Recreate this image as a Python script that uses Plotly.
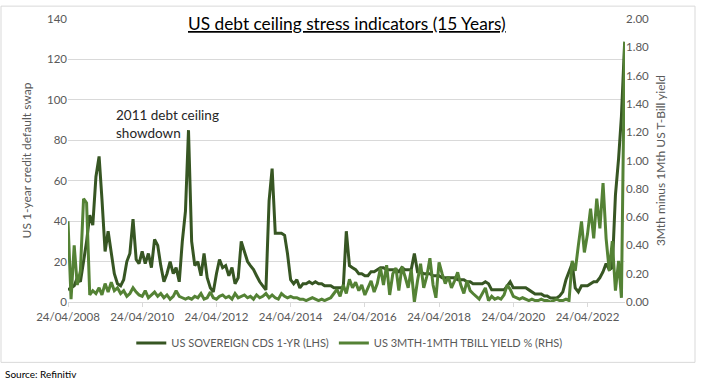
import pandas as pd
import plotly.graph_objects as go

# ---------------- data (monthly readings from the chart) ----------------
start_date = "2008-04-24"

cds_1yr = [
    6, 7, 8, 12, 10, 20, 30, 43, 38, 62,
    72, 51, 25, 35, 24, 14, 9, 8, 11, 20,
    24, 41, 21, 19, 25, 19, 24, 17, 31, 28,
    18, 10, 14, 20, 14, 17, 10, 30, 45, 85,
    30, 18, 20, 13, 24, 12, 7, 5, 14, 21,
    17, 18, 13, 17, 9, 12, 30, 25, 20, 18,
    16, 13, 10, 8, 6, 50, 66, 34, 34, 34,
    33, 24, 11, 9, 11, 7, 9, 9, 10, 9,
    10, 9, 9, 8, 8, 8, 7, 7, 7, 7,
    35, 18, 17, 16, 14, 14, 13, 13, 15, 15,
    16, 17, 17, 16, 16, 16, 16, 15, 17, 16,
    16, 16, 24, 15, 15, 14, 14, 14, 13, 13,
    13, 12, 12, 12, 12, 12, 11, 11, 11, 10,
    10, 9, 9, 9, 9, 10, 9, 6, 6, 6,
    6, 6, 8, 10, 7, 7, 7, 7, 7, 6,
    5, 4, 4, 4, 3, 3, 2, 2, 2, 3,
    5, 11, 15, 19, 7, 5, 8, 8, 8, 9,
    10, 10, 12, 15, 19, 16, 17, 53, 71, 92,
    128,
]

tbill_spread = [
    0.57, 0.02, 0.40, 0.12, 0.22, 0.73, 0.70, 0.05, 0.08, 0.06,
    0.10, 0.05, 0.13, 0.07, 0.14, 0.08, 0.10, 0.06, 0.08, 0.04,
    0.06, 0.10, 0.07, 0.05, 0.04, 0.08, 0.03, 0.05, 0.07, 0.04,
    0.06, 0.03, 0.05, 0.02, 0.04, 0.08, 0.04, 0.03, 0.02, 0.03,
    0.02, 0.04, 0.03, 0.06, 0.02, 0.03, 0.07, 0.03, 0.02, 0.04,
    0.05, 0.03, 0.04, 0.02, 0.06, 0.03, 0.04, 0.05, 0.03, 0.04,
    0.02, 0.05, 0.03, 0.04, 0.06, 0.03, 0.05, 0.03, 0.02, 0.06,
    0.04, 0.03, 0.04, 0.03, 0.03, 0.02, 0.02, 0.01, 0.02, 0.03,
    0.02, 0.01, 0.02, 0.01, 0.02, 0.03, 0.06, 0.09, 0.04, 0.12,
    0.06, 0.16, 0.10, 0.14, 0.08, 0.12, 0.05, 0.10, 0.15, 0.07,
    0.13, 0.24, 0.12, 0.26, 0.05, 0.20, 0.24, 0.08, 0.25, 0.18,
    0.10, 0.23, 0.00, 0.15, 0.27, 0.10, 0.18, 0.31, 0.12, 0.03,
    0.28, 0.20, 0.13, 0.18, 0.10, 0.15, 0.21, 0.12, 0.06, 0.15,
    0.08, 0.06, 0.04, 0.02, 0.06, 0.10, 0.01, 0.04, 0.02, 0.03,
    0.02, 0.05, 0.12, 0.09, 0.04, 0.03, 0.02, 0.03, 0.02, 0.01,
    0.02, 0.01, 0.01, 0.02, 0.01, 0.01, 0.00, 0.01, 0.02, 0.01,
    0.01, 0.02, 0.01, 0.29, 0.22, 0.40, 0.57, 0.35, 0.48, 0.66,
    0.45, 0.73, 0.52, 0.84, 0.45, 0.22, 0.43, 0.08, 0.29, 0.03,
    1.84,
]

dates = pd.date_range(start_date, periods=len(cds_1yr), freq=pd.DateOffset(months=1))

x_tick_dates = ["2008-04-24", "2010-04-24", "2012-04-24", "2014-04-24",
                "2016-04-24", "2018-04-24", "2020-04-24", "2022-04-24"]
x_tick_labels = ["24/04/2008", "24/04/2010", "24/04/2012", "24/04/2014",
                 "24/04/2016", "24/04/2018", "24/04/2020", "24/04/2022"]

left_ticks = [0, 20, 40, 60, 80, 100, 120, 140]
right_ticks = [0, 0.2, 0.4, 0.6, 0.8, 1.0, 1.2, 1.4, 1.6, 1.8, 2.0]
right_tick_labels = ["0.00", "0.20", "0.40", "0.60", "0.80", "1.00",
                     "1.20", "1.40", "1.60", "1.80", "2.00"]

# ---------------- figure ----------------
FONT = "Lato"
DARK = "#375623"
LIGHT = "#548235"
GREY = "#595959"

fig = go.Figure()
fig.add_trace(go.Scatter(
    x=dates, y=cds_1yr, mode="lines", name="US SOVEREIGN CDS 1-YR (LHS)",
    line=dict(color=DARK, width=3), yaxis="y"))
fig.add_trace(go.Scatter(
    x=dates, y=tbill_spread, mode="lines", name="US 3MTH-1MTH TBILL YIELD % (RHS)",
    line=dict(color=LIGHT, width=3), yaxis="y2"))

fig.update_layout(
    width=701, height=382,
    margin=dict(l=68, r=76, t=16, b=80),
    paper_bgcolor="white", plot_bgcolor="white",
    font=dict(family=FONT, size=12, color=GREY),
    showlegend=True,
    legend=dict(orientation="h", x=0.505, xanchor="center", y=-0.145, yanchor="middle",
                font=dict(family=FONT, size=11, color=GREY), itemwidth=30,
                bgcolor="rgba(0,0,0,0)"),
    xaxis=dict(
        type="date",
        range=["2008-04-24", "2023-04-28"],
        tickmode="array", tickvals=x_tick_dates, ticktext=x_tick_labels,
        showgrid=False, showline=True, linecolor="#d9d9d9", linewidth=1,
        ticks="outside", ticklen=4, tickcolor="#d9d9d9",
        tickfont=dict(family=FONT, size=11.5, color=GREY), zeroline=False,
    ),
    yaxis=dict(
        range=[0, 140], tickmode="array", tickvals=left_ticks,
        showgrid=True, gridcolor="#d9d9d9", gridwidth=1, zeroline=False,
        showline=False, ticks="",
        tickfont=dict(family=FONT, size=11.5, color=GREY),
        title=dict(text="US 1-year credit default swap",
                   font=dict(family=FONT, size=12, color=GREY), standoff=12),
    ),
    yaxis2=dict(
        range=[0, 2.0], overlaying="y", side="right",
        tickmode="array", tickvals=right_ticks, ticktext=right_tick_labels,
        showgrid=False, zeroline=False, showline=False, ticks="",
        tickfont=dict(family=FONT, size=11.5, color=GREY),
        title=dict(text="3Mth minus 1Mth US T-Bill yield",
                   font=dict(family=FONT, size=12, color=GREY), standoff=8),
    ),
)

# Title (underlined)
fig.add_annotation(
    xref="paper", yref="paper", x=0.501, y=(302 - 21) / 286, xanchor="center", yanchor="middle",
    text="<u>US debt ceiling stress indicators (15 Years)</u>", showarrow=False,
    font=dict(family=FONT, size=17.3, color="#000000"))

# Callout
fig.add_annotation(
    xref="paper", yref="paper", x=(114 - 68) / 557, y=(302 - 103) / 286,
    xanchor="left", yanchor="top", align="left", showarrow=False,
    text="2011 debt ceiling<br>showdown",
    font=dict(family=FONT, size=13.5, color="#262626"))

# Source
fig.add_annotation(
    xref="paper", yref="paper", x=(3 - 68) / 557, y=(302 - 375) / 286,
    xanchor="left", yanchor="middle", showarrow=False,
    text="Source: Refinitiv", font=dict(family=FONT, size=10, color="#000000"))

# Chart border
fig.add_shape(type="rect", xref="paper", yref="paper",
              x0=(1 - 68) / 557, x1=(695 - 68) / 557,
              y0=(302 - 363) / 286, y1=(302 - 3) / 286,
              line=dict(color="#d9d9d9", width=1), fillcolor="rgba(0,0,0,0)", layer="below")

fig.write_html("out.html", config={"displayModeBar": False},
               post_script="document.body.style.margin='0';")
